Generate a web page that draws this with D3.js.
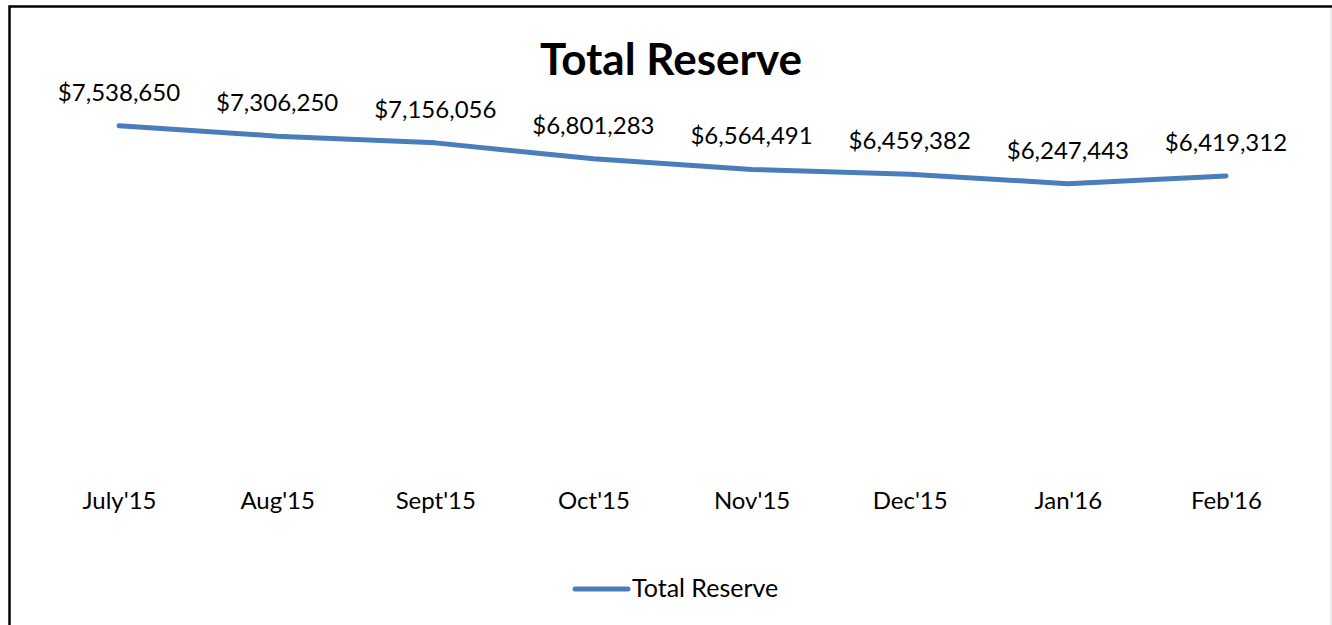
<!DOCTYPE html>
<html>
<head>
<meta charset="utf-8">
<script src="https://cdn.jsdelivr.net/npm/d3@7"></script>
<style>
  body { margin: 0; background: #fff; }
  svg { display: block; font-family: Lato, "Open Sans", sans-serif; }
</style>
</head>
<body>
<svg width="1332" height="625"></svg>
<script>
const months = ["July'15", "Aug'15", "Sept'15", "Oct'15", "Nov'15", "Dec'15", "Jan'16", "Feb'16"];
const reserve = [7538650, 7306250, 7156056, 6801283, 6564491, 6459382, 6247443, 6419312];
const seriesName = "Total Reserve";

const lineColor = "#4a7ebb";
const svg = d3.select("svg");

// chart frame (runs off the right and bottom edges)
svg.append("rect")
    .attr("x", 9.5).attr("y", 6.5)
    .attr("width", 1340).attr("height", 640)
    .attr("fill", "none")
    .attr("stroke", "#000")
    .attr("stroke-width", 2.5);
svg.append("line")
    .attr("x1", 1331).attr("x2", 1331)
    .attr("y1", 8).attr("y2", 625)
    .attr("stroke", "#e6e6e6")
    .attr("stroke-width", 1.5);

const x = d3.scalePoint()
    .domain(months)
    .range([119, 1226]);
const y = d3.scaleLinear()
    .domain([0, 8000000])
    .range([464, 105]);

svg.append("text")
    .attr("x", 671).attr("y", 75)
    .attr("text-anchor", "middle")
    .attr("font-size", 44)
    .attr("font-weight", "bold")
    .text("Total Reserve");

const data = months.map((m, i) => ({month: m, value: reserve[i]}));

svg.append("path")
    .datum(data)
    .attr("fill", "none")
    .attr("stroke", lineColor)
    .attr("stroke-width", 5)
    .attr("stroke-linecap", "round")
    .attr("stroke-linejoin", "round")
    .attr("d", d3.line().x(d => x(d.month)).y(d => y(d.value)));

const fmt = d3.format("$,");
svg.append("g").selectAll("text")
    .data(data)
  .enter().append("text")
    .attr("x", d => x(d.month))
    .attr("y", d => y(d.value) - 25)
    .attr("text-anchor", "middle")
    .attr("font-size", 24)
    .text(d => fmt(d.value));

// category labels (axis line hidden)
const xAxis = svg.append("g")
    .attr("transform", "translate(0,464)")
    .call(d3.axisBottom(x).tickSize(0).tickPadding(28));
xAxis.select(".domain").remove();
xAxis.selectAll("text")
    .attr("font-size", 24)
    .attr("font-family", "Lato, 'Open Sans', sans-serif")
    .attr("fill", "#000");

// legend
const lg = svg.append("g").attr("transform", "translate(573,589)");
lg.append("line")
    .attr("x1", 2).attr("x2", 55)
    .attr("stroke", lineColor)
    .attr("stroke-width", 5)
    .attr("stroke-linecap", "round");
lg.append("text")
    .attr("x", 59).attr("y", 8)
    .attr("font-size", 25)
    .text(seriesName);
</script>
</body>
</html>
